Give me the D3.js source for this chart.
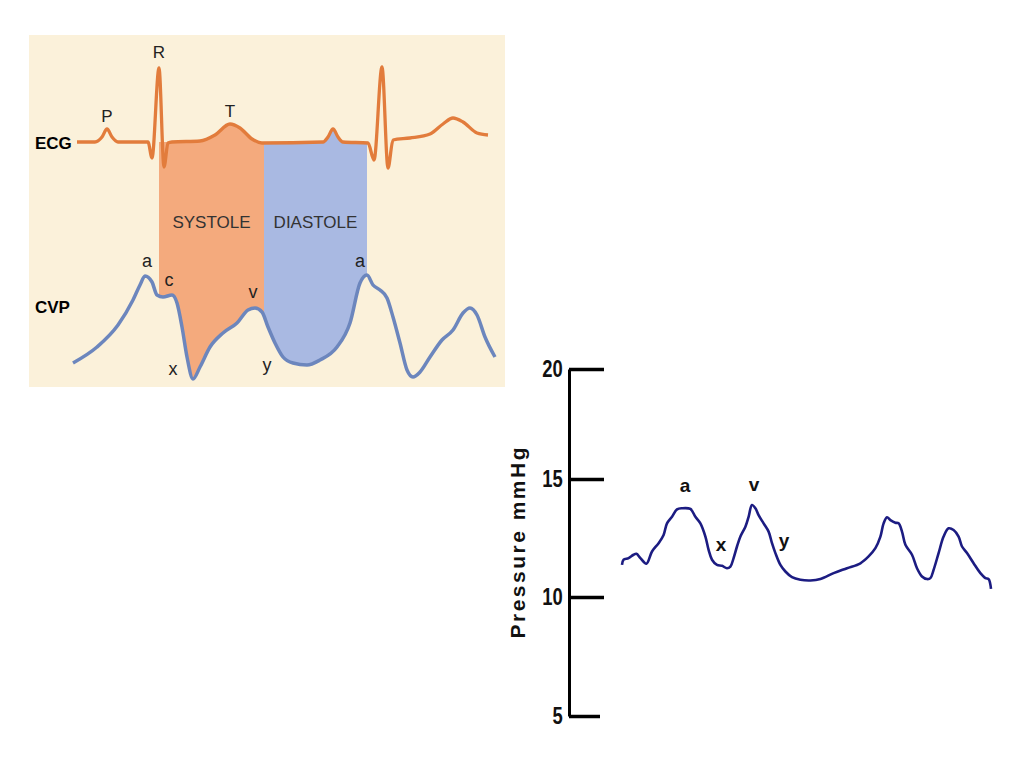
<!DOCTYPE html>
<html>
<head>
<meta charset="utf-8">
<script src="https://cdn.jsdelivr.net/npm/d3@7"></script>
<style>
  body { margin: 0; background: #fff; }
  svg { display: block; }
  text { font-family: "Liberation Sans", Arial, sans-serif; }
</style>
</head>
<body>
<svg id="chart" width="1024" height="767"></svg>
<script>
// ---- top-left diagram: ECG + CVP over one cardiac cycle (time in ms) ----
var ecgTime = [0, 72, 100, 120, 140, 164, 284, 300, 328, 348, 364, 380, 492, 552, 612, 652, 700, 740,
               984, 1004, 1024, 1044, 1064, 1164, 1188, 1220, 1244, 1264, 1332, 1412, 1464, 1504, 1544, 1600, 1644];
var ecgMv   = [0, 0, 0.1, 0.26, 0.1, 0, 0, -0.32, 1.48, -0.5, -0.02, 0, 0.02, 0.14, 0.36, 0.28, 0.06, -0.02,
               0, 0.1, 0.26, 0.1, 0, -0.02, -0.36, 1.5, -0.52, 0.04, 0.08, 0.16, 0.36, 0.48, 0.4, 0.18, 0.14];

var cvpTime  = [-16, 80, 164, 224, 252, 272, 300, 320, 344, 380, 400, 420, 440, 464, 492, 532, 584, 640, 684, 712,
                740, 764, 792, 824, 864, 920, 972, 1040, 1092, 1132, 1160, 1184, 1212, 1240, 1264, 1292, 1320, 1344,
                1372, 1412, 1460, 1504, 1544, 1572, 1600, 1632, 1672];
var cvpLevel = [1.7, 3.3, 5.5, 8.0, 9.5, 10.4, 9.8, 8.5, 8.3, 8.5, 7.7, 5.3, 2.3, 0.1, 1.3, 3.3, 4.7, 5.7, 7.0, 7.2,
                6.8, 5.3, 3.7, 2.3, 1.7, 1.5, 2.0, 3.3, 5.7, 9.7, 10.5, 9.5, 9.0, 8.2, 6.3, 3.7, 1.0, 0.3,
                0.8, 2.3, 4.0, 5.0, 6.7, 7.2, 6.5, 4.3, 2.3];

var phaseNames  = ["SYSTOLE", "DIASTOLE"];
var phaseStart  = [328, 748];
var phaseEnd    = [748, 1160];
var phaseColors = ["#f4aa7d", "#a9b9e2"];

var ecgWaveNames = ["P", "R", "T"];
var ecgWaveTime  = [120, 328, 612];

var cvpWaveNames = ["a", "c", "x", "v", "y", "a"];
var cvpWaveTime  = [272, 380, 464, 712, 864, 1160];

// ---- bottom-right chart: CVP tracing in mmHg (time in ms) ----
var traceTime = [0, 8, 33, 58, 72, 92, 122, 150, 183, 208, 225, 250, 275, 300, 342, 367, 392, 417, 433, 450,
                 475, 500, 525, 542, 558, 575, 592, 617, 633, 650, 667, 683, 708, 733, 750, 767, 792, 817, 850,
                 892, 942, 992, 1058, 1125, 1192, 1233, 1267, 1292, 1308, 1325, 1342, 1367, 1383, 1400, 1417,
                 1450, 1475, 1500, 1525, 1542, 1558, 1583, 1608, 1633, 1658, 1683, 1700, 1725, 1758, 1792, 1817,
                 1833, 1845];
var traceMmHg = [11.36, 11.58, 11.65, 11.79, 11.83, 11.65, 11.41, 11.93, 12.28, 12.63, 13.12, 13.40, 13.71, 13.76,
                 13.73, 13.40, 13.12, 12.56, 12.00, 11.58, 11.36, 11.32, 11.22, 11.29, 11.65, 12.14, 12.56, 12.98,
                 13.40, 13.90, 13.76, 13.47, 13.12, 12.77, 12.28, 11.86, 11.36, 11.08, 10.84, 10.73, 10.70, 10.76,
                 11.01, 11.22, 11.43, 11.72, 12.07, 12.56, 13.12, 13.38, 13.26, 13.15, 13.12, 12.77, 12.21,
                 11.79, 11.22, 10.87, 10.76, 10.80, 11.15, 11.86, 12.56, 12.91, 12.84, 12.56, 12.14, 11.86, 11.43,
                 11.01, 10.80, 10.76, 10.34];
var traceWaveNames = ["a", "x", "v", "y"];
var traceWaveTime  = [300, 475, 650, 750];
var yTicks = [5, 10, 15, 20];

var svg = d3.select("#chart");
svg.append("rect").attr("width", 1024).attr("height", 767).attr("fill", "#fff");

function zip(xs, ys) { return xs.map(function(t, i) { return [t, ys[i]]; }); }
function valueAt(xs, ys, t) { return ys[xs.indexOf(t)]; }

// ================= diagram =================
var x = d3.scaleLinear().domain([0, 1000]).range([77, 327]);
var yEcg = d3.scaleLinear().domain([0, 1.48]).range([142, 68]);
var yCvp = d3.scaleLinear().domain([0, 10]).range([380, 280]);

var diag = svg.append("g");
diag.append("rect")
    .attr("x", 29).attr("y", 35).attr("width", 476).attr("height", 352)
    .attr("fill", "#fbf1da");

var ecgPts = zip(ecgTime, ecgMv);
var cvpPts = zip(cvpTime, cvpLevel);

var ecgLine = d3.line().curve(d3.curveMonotoneX)
    .x(function(d) { return x(d[0]); })
    .y(function(d) { return yEcg(d[1]); });
var cvpLine = d3.line().curve(d3.curveMonotoneX)
    .x(function(d) { return x(d[0]); })
    .y(function(d) { return yCvp(d[1]); });

// clip the phase bands: below the ECG trace (ignoring the QRS spike) and above the CVP trace
var defs = svg.append("defs");
var topPts = [[300, 0]].concat(ecgPts.filter(function(d) { return d[0] >= 380 && d[0] <= 1164; }));
defs.append("clipPath").attr("id", "belowEcg").append("path")
    .attr("d", d3.area().curve(d3.curveMonotoneX)
        .x(function(d) { return x(d[0]); })
        .y0(function(d) { return yEcg(d[1]); })
        .y1(400)(topPts));
defs.append("clipPath").attr("id", "aboveCvp").append("path")
    .attr("d", d3.area().curve(d3.curveMonotoneX)
        .x(function(d) { return x(d[0]); })
        .y0(30)
        .y1(function(d) { return yCvp(d[1]); })(cvpPts));

var bands = diag.append("g").attr("clip-path", "url(#belowEcg)")
    .append("g").attr("clip-path", "url(#aboveCvp)");
bands.selectAll("rect")
    .data(phaseNames)
    .enter().append("rect")
    .attr("x", function(d, i) { return x(phaseStart[i]); })
    .attr("width", function(d, i) { return x(phaseEnd[i]) - x(phaseStart[i]); })
    .attr("y", 100).attr("height", 300)
    .attr("fill", function(d, i) { return phaseColors[i]; });

diag.selectAll(".phase")
    .data(phaseNames)
    .enter().append("text")
    .attr("class", "phase")
    .attr("x", function(d, i) { return (x(phaseStart[i]) + x(phaseEnd[i])) / 2; })
    .attr("y", 228)
    .attr("text-anchor", "middle")
    .style("font-size", "17px")
    .style("fill", "#333")
    .text(function(d) { return d; });

diag.append("path").attr("d", ecgLine(ecgPts))
    .attr("fill", "none").attr("stroke", "#e27c3c").attr("stroke-width", 3.3)
    .attr("stroke-linejoin", "round");
diag.append("path").attr("d", cvpLine(cvpPts))
    .attr("fill", "none").attr("stroke", "#6c86bd").attr("stroke-width", 3.5)
    .attr("stroke-linejoin", "round");

diag.append("text").attr("x", 35).attr("y", 149)
    .style("font-size", "17px").style("font-weight", "bold").text("ECG");
diag.append("text").attr("x", 35).attr("y", 313)
    .style("font-size", "17px").style("font-weight", "bold").text("CVP");

// wave letters: offsets from the point they name
var ecgLabelOffset = { P: [0, -7], R: [0, -10], T: [0, -7] };
diag.selectAll(".ecgwave")
    .data(ecgWaveNames)
    .enter().append("text")
    .attr("class", "ecgwave")
    .attr("text-anchor", "middle")
    .attr("x", function(d, i) { return x(ecgWaveTime[i]) + ecgLabelOffset[d][0]; })
    .attr("y", function(d, i) { return yEcg(valueAt(ecgTime, ecgMv, ecgWaveTime[i])) + ecgLabelOffset[d][1]; })
    .style("font-size", "17px").style("fill", "#222")
    .text(function(d) { return d; });

var cvpLabelOffset = [[2, -9], [-3, -9], [-20, -4], [-2, -10], [-26, 8], [-7, -8]];
diag.selectAll(".cvpwave")
    .data(cvpWaveNames)
    .enter().append("text")
    .attr("class", "cvpwave")
    .attr("text-anchor", "middle")
    .attr("x", function(d, i) { return x(cvpWaveTime[i]) + cvpLabelOffset[i][0]; })
    .attr("y", function(d, i) { return yCvp(valueAt(cvpTime, cvpLevel, cvpWaveTime[i])) + cvpLabelOffset[i][1]; })
    .style("font-size", "18px").style("fill", "#222")
    .text(function(d) { return d; });

// ================= pressure chart =================
var xR = d3.scaleLinear().domain([0, 1845]).range([622, 991]);
var yR = d3.scaleLinear().domain(yTicks).range([716, 597, 479, 369]);

var axis = svg.append("g")
    .attr("transform", "translate(569,0)")
    .call(d3.axisLeft(yR).tickValues(yTicks).tickSizeInner(-35).tickSizeOuter(0).tickPadding(8));
axis.select(".domain").attr("stroke", "#000").attr("stroke-width", 3);
axis.selectAll(".tick line").attr("stroke", "#000").attr("stroke-width", 3.5);
axis.selectAll(".tick").filter(function(d) { return d === 5; }).select("line").attr("x2", 31);
// condensed look of the original lettering
axis.selectAll(".tick text")
    .attr("transform", "scale(0.8,1)")
    .style("font-family", "'Liberation Sans', Arial, sans-serif")
    .style("font-size", "23px").style("font-weight", "bold").style("fill", "#111");

svg.append("text")
    .attr("transform", "translate(525,543) rotate(-90)")
    .attr("text-anchor", "middle")
    .attr("textLength", 191).attr("lengthAdjust", "spacing")
    .style("font-size", "21px").style("font-weight", "bold").style("fill", "#111")
    .text("Pressure mmHg");

var tracePts = zip(traceTime, traceMmHg);
svg.append("path")
    .attr("d", d3.line().curve(d3.curveCatmullRom)
        .x(function(d) { return xR(d[0]); })
        .y(function(d) { return yR(d[1]); })(tracePts))
    .attr("fill", "none").attr("stroke", "#1c1c82").attr("stroke-width", 2.6)
    .attr("stroke-linejoin", "round");

var traceLabelOffset = [[3, -16], [4, -14], [2, -14], [12, 4]];
svg.selectAll(".tracewave")
    .data(traceWaveNames)
    .enter().append("text")
    .attr("class", "tracewave")
    .attr("text-anchor", "middle")
    .attr("x", function(d, i) { return xR(traceWaveTime[i]) + traceLabelOffset[i][0]; })
    .attr("y", function(d, i) { return yR(valueAt(traceTime, traceMmHg, traceWaveTime[i])) + traceLabelOffset[i][1]; })
    .style("font-size", "19px").style("font-weight", "bold").style("fill", "#111")
    .text(function(d) { return d; });
</script>
</body>
</html>
